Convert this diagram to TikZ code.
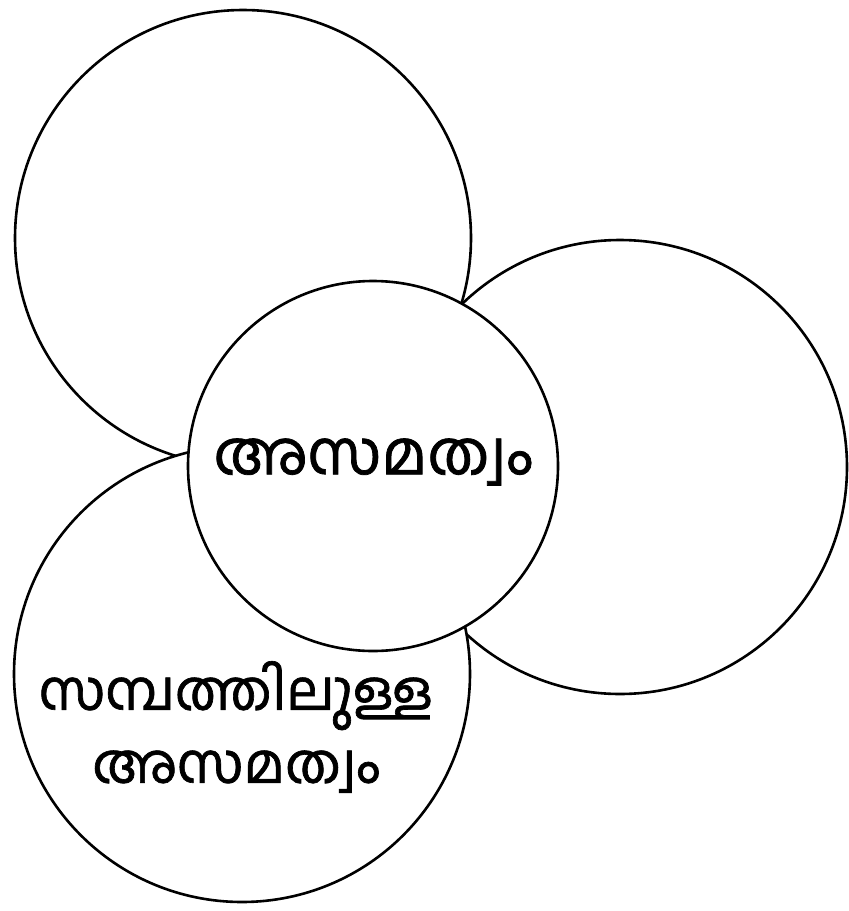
\documentclass[tikz,border=0pt]{standalone}
\usepackage{fontspec}
\newfontfamily\malfont[Script=Malayalam,FakeBold=1.2]{Hind Kochi}
\begin{document}
\begin{tikzpicture}[x=1pt,y=-1pt,
  ring/.style={circle,draw=black,fill=white,line width=2.6pt,inner sep=0pt},
  mal/.style={text=black,inner sep=0pt}]
\useasboundingbox (0,0) rectangle (849,911);
\fill[white] (0,0) rectangle (849,911);
\node[ring,minimum size=456pt] (tl) at (243,238) {};
\node[ring,minimum size=454pt] (rt) at (620,467) {};
\node[ring,minimum size=456pt] (bl) at (242,674) {};
\node[ring,minimum size=370pt] (ce) at (373,466) {};
\node[mal,font=\malfont\fontsize{61}{72}\selectfont] (t1) at (ce.center) [yshift=4pt] {അസമത്വം};
\node[mal,font=\malfont\fontsize{55}{73}\selectfont,align=center] (t2) at (236,727) {സമ്പത്തിലുള്ള\\അസമത്വം};
\end{tikzpicture}
\end{document}
